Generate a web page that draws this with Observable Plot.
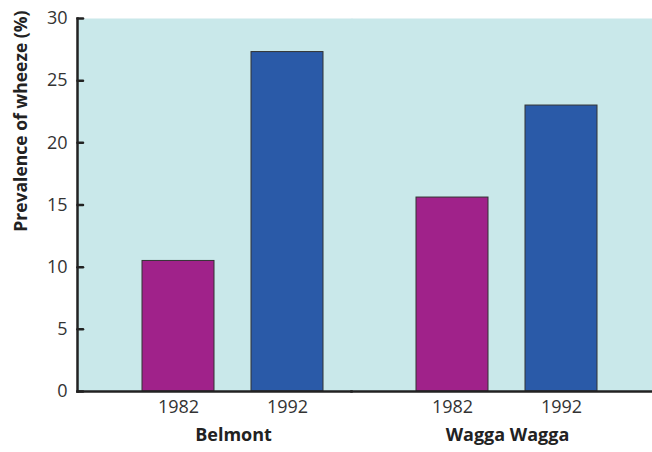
<!DOCTYPE html>
<html><head><meta charset="utf-8">
<script src="https://cdn.jsdelivr.net/npm/d3@7"></script>
<script src="https://cdn.jsdelivr.net/npm/@observablehq/plot@0.6"></script>
<style>body{margin:0;background:#fff;} svg{font-family:"Open Sans",sans-serif;}</style>
</head><body><div id="chart"></div>
<script>
const sites = ["Belmont", "Wagga Wagga"];
const years = ["1982", "1992"];
const belmontValues = [10.5, 27.3];
const waggaValues = [15.6, 23.0];
const yTicks = [0, 5, 10, 15, 20, 25, 30];
const yLabel = "Prevalence of wheeze (%)";
const colors = ["#a0228a", "#2a5aa8"];
const bgColor = "#c9e8ea";

const rows = [];
years.forEach((yr, i) => rows.push({site: sites[0], year: yr, value: belmontValues[i]}));
years.forEach((yr, i) => rows.push({site: sites[1], year: yr, value: waggaValues[i]}));

const extra = 26.5; // plot background extends past the last facet
const tickShape = {draw(context, l) { context.moveTo(0, 0); context.lineTo(0, -l); }};

const chart = Plot.plot({
  width: 652, height: 452,
  marginLeft: 77, marginRight: extra, marginTop: 18, marginBottom: 61,
  style: {fontFamily: "Open Sans, sans-serif", color: "#333"},
  fx: {domain: sites, axis: null, paddingInner: 0, paddingOuter: 0, label: null},
  x: {domain: years, paddingInner: 0.341, paddingOuter: 0.417, align: 0.695, label: null},
  y: {domain: [0, 30], label: null},
  color: {domain: years, range: colors},
  marks: [
    Plot.frame({fill: bgColor, stroke: null, facetAnchor: "left", insetRight: -1}),
    Plot.frame({fill: bgColor, stroke: null, facetAnchor: "right", insetRight: -extra}),
    Plot.barY(rows, {fx: "site", x: "year", y: "value", fill: "year", stroke: "#333", strokeWidth: 1}),
    Plot.frame({anchor: "bottom", facetAnchor: "left", stroke: "#222", strokeWidth: 2.5}),
    Plot.frame({anchor: "bottom", facetAnchor: "right", stroke: "#222", strokeWidth: 2.5, insetRight: -extra}),
    Plot.frame({anchor: "left", facetAnchor: "left", stroke: "#222", strokeWidth: 2.5}),
    Plot.vector(yTicks, {y: d => d, frameAnchor: "left", facetAnchor: "left", rotate: 90, length: 5.5, anchor: "start", shape: tickShape, stroke: "#222", strokeWidth: 2.5}),
    Plot.axisY({ticks: yTicks, tickSize: 0, tickPadding: 10, fontSize: 18, fill: "#333", label: null}),
    Plot.axisX({tickSize: 0, tickPadding: 9, fontSize: 18, fill: "#333", label: null}),
    Plot.text(sites, {fx: d => d, x: () => years[0], dx: 55, frameAnchor: "bottom", dy: 49, text: d => d, fontSize: 18, fontWeight: "bold", fill: "#222"}),
    Plot.text([yLabel], {facetAnchor: "left", frameAnchor: "top-left", rotate: -90, dx: -63, dy: -8, textAnchor: "end", text: d => d, fontSize: 17.5, fontWeight: "bold", fill: "#222"})
  ]
});
document.getElementById("chart").appendChild(chart);
</script></body></html>
